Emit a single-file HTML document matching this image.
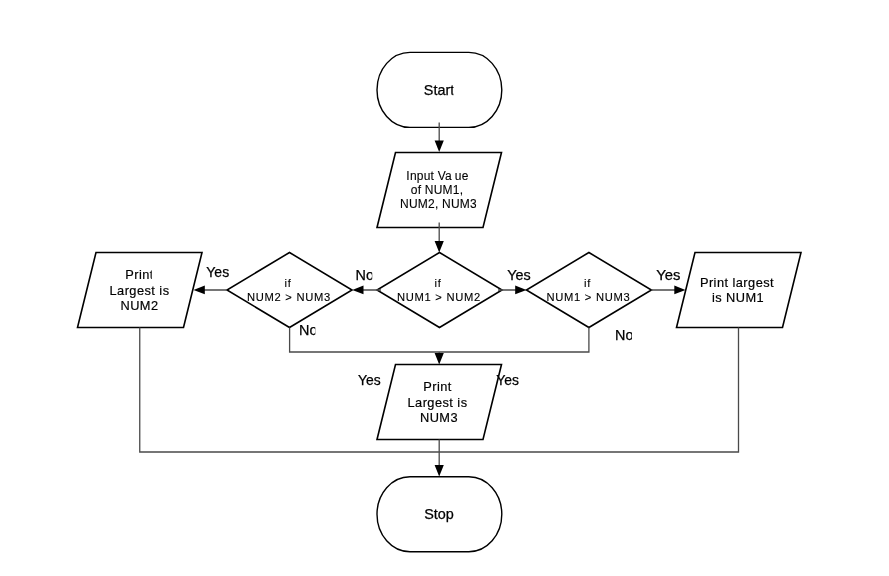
<!DOCTYPE html>
<html>
<head>
<meta charset="utf-8">
<style>
html,body{margin:0;padding:0;background:#fff;width:889px;height:576px;overflow:hidden}
svg{display:block;will-change:transform}
text{font-family:"Liberation Sans",sans-serif;fill:#000;stroke:#000;stroke-width:0.25px}
.s{fill:#fff;stroke:#000;stroke-width:1.6;stroke-linejoin:miter}
.c{fill:none;stroke:#4a4a4a;stroke-width:1.3}
.a{fill:#000;stroke:none}
.t14{font-size:14.4px}
.t12{font-size:12px;letter-spacing:0.22px;stroke-width:0.1px}
.t13{font-size:12.8px;letter-spacing:0.45px;stroke-width:0.18px}
.t11{font-size:11.2px;letter-spacing:0.72px;stroke-width:0.12px}
</style>
</head>
<body>
<svg width="889" height="576" viewBox="0 0 889 576">
<rect x="0" y="0" width="889" height="576" fill="#fff"/>

<!-- terminators -->
<rect class="s" x="377" y="52.4" width="124.8" height="75" rx="33" ry="37.5" style="stroke-width:1.4"/>
<rect class="s" x="377" y="476.8" width="124.8" height="75" rx="33" ry="37.5" style="stroke-width:1.4"/>

<!-- parallelograms -->
<polygon class="s" points="395.5,152.5 501.5,152.5 483,227.5 377,227.5"/>
<polygon class="s" points="96,252.5 202,252.5 183.5,327.5 77.5,327.5"/>
<polygon class="s" points="695,252.5 801,252.5 782.5,327.5 676.5,327.5"/>
<polygon class="s" points="395.5,364.5 501.5,364.5 483,439.5 377,439.5"/>

<!-- diamonds -->
<polygon class="s" points="439.5,252.5 502,290 439.5,327.5 377,290"/>
<polygon class="s" points="289.5,252.5 352,290 289.5,327.5 227,290"/>
<polygon class="s" points="588.9,252.5 651.4,290 588.9,327.5 526.4,290"/>

<!-- connectors -->
<path class="c" d="M439.2 122.5 V142 M439.2 222.5 V242"/>
<path class="c" d="M381 290 H362 M227 290 H204 M498 290 H516 M651.4 290 H675"/>
<path class="c" d="M289.6 327.5 V352 H588.9 V327.5 M439.2 352 V354"/>
<path class="c" d="M139.75 327.5 V452 H738.5 V327.5 M439.2 439.5 V466"/>

<!-- arrowheads -->
<polygon class="a" points="434.6,140.5 443.8,140.5 439.2,152"/>
<polygon class="a" points="434.6,241 443.8,241 439.2,252.5"/>
<polygon class="a" points="363.5,285.5 363.5,294.3 352.3,289.9"/>
<polygon class="a" points="204.8,285.5 204.8,294.3 193.5,289.9"/>
<polygon class="a" points="515.2,285.5 515.2,294.3 526.5,289.9"/>
<polygon class="a" points="674.3,285.5 674.3,294.3 685.5,289.9"/>
<polygon class="a" points="434.6,353 443.8,353 439.2,364.5"/>
<polygon class="a" points="434.6,465 443.8,465 439.2,476.6"/>

<!-- shape text -->
<defs>
<clipPath id="kStart"><rect x="0" y="0" width="453.4" height="576"/></clipPath>
<clipPath id="kIn3"><rect x="0" y="0" width="476.3" height="576"/></clipPath>
<clipPath id="kP2"><rect x="0" y="0" width="151.8" height="576"/></clipPath>
<clipPath id="kD2"><rect x="0" y="0" width="330.2" height="576"/></clipPath>
<clipPath id="kNo1"><rect x="0" y="0" width="372.2" height="576"/></clipPath>
<clipPath id="kNo2"><rect x="0" y="0" width="315.3" height="576"/></clipPath>
<clipPath id="kNo3"><rect x="0" y="0" width="632" height="576"/></clipPath>
</defs>
<text class="t14" x="439" y="95" text-anchor="middle" clip-path="url(#kStart)">Start</text>
<text class="t14" x="439" y="519" text-anchor="middle">Stop</text>

<text class="t12" x="437.5" y="180" text-anchor="middle">Input Va<tspan fill="#fff" stroke="#fff">l</tspan>ue</text>
<text class="t12" x="437" y="194" text-anchor="middle">of NUM1,</text>
<text class="t12" x="438.5" y="208.3" text-anchor="middle" clip-path="url(#kIn3)">NUM2, NUM3</text>

<text class="t13" x="437.5" y="390.7" text-anchor="middle">Print</text>
<text class="t13" x="437.5" y="406.5" text-anchor="middle">Largest is</text>
<text class="t13" x="439" y="421.8" text-anchor="middle">NUM3</text>

<text class="t13" x="139.5" y="279" text-anchor="middle" clip-path="url(#kP2)">Print</text>
<text class="t13" x="139.5" y="294.5" text-anchor="middle">Largest is</text>
<text class="t13" x="139.5" y="310" text-anchor="middle">NUM2</text>

<text class="t13" x="737" y="286.8" text-anchor="middle">Print largest</text>
<text class="t13" x="738" y="301.8" text-anchor="middle">is NUM1</text>

<text class="t11" x="438" y="286.6" text-anchor="middle">if</text>
<text class="t11" x="439" y="301" text-anchor="middle">NUM1 &gt; NUM2</text>
<text class="t11" x="288" y="286.6" text-anchor="middle">if</text>
<text class="t11" x="289" y="301" text-anchor="middle" clip-path="url(#kD2)">NUM2 &gt; NUM3</text>
<text class="t11" x="587.5" y="286.6" text-anchor="middle">if</text>
<text class="t11" x="588.5" y="301" text-anchor="middle">NUM1 &gt; NUM3</text>

<!-- labels -->
<text class="t14" x="206.3" y="276.7" style="font-size:14px">Yes</text>
<text class="t14" x="355.5" y="279.7" clip-path="url(#kNo1)">No</text>
<text class="t14" x="507.3" y="279.6">Yes</text>
<text class="t14" x="656.3" y="280.4" style="font-size:14.8px">Yes</text>
<text class="t14" x="299" y="334.7" clip-path="url(#kNo2)">No</text>
<text class="t14" x="615" y="340" clip-path="url(#kNo3)">No</text>
<text class="t14" x="358" y="384.5" style="font-size:13.9px">Yes</text>
<text class="t14" x="496.3" y="384.5" style="font-size:13.9px">Yes</text>
</svg>
</body>
</html>
